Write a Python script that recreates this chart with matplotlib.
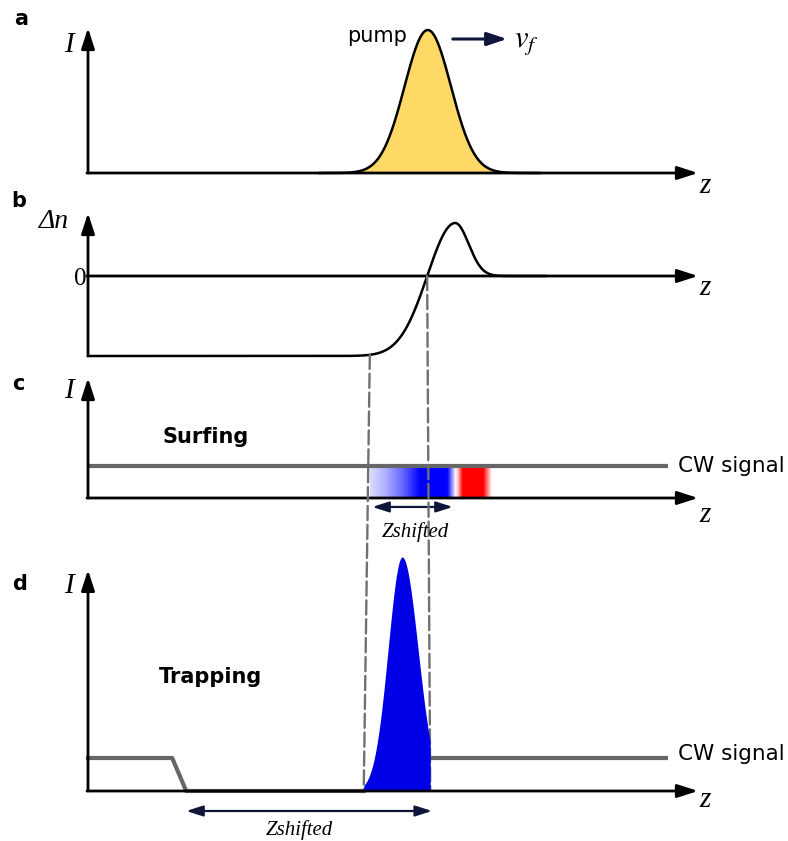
import numpy as np
import matplotlib
matplotlib.use("Agg")
import matplotlib.pyplot as plt
from matplotlib.patches import ConnectionPatch

# ------------------------------------------------------------------ data
# z in arbitrary units: 0 = origin of the axes, 100 = tip of the z arrow
z_end = 100.0

# panel a : pump pulse
pump_center = 55.7
pump_sigma = 3.8
pump_peak = 1.0
pump_range = [38.0, 74.0]
vf_arrow_z = [59.8, 68.7]
vf_arrow_level = 0.937

# panel b : refractive index change
dn_base = -1.6
dn_peak = 1.06
dn_peak_z = 60.2
dn_width_left = 6.44
dn_width_right = 3.1
dn_range = [0.0, 75.0]

# dashed guide lines (z at panel b -> z at panel d)
guide_left_z = [46.2, 45.2]
guide_right_z = [55.6, 56.1]

# panel c : surfing
cw_c_z = [0.0, 95.1]
cw_c_level = [1.0, 1.0]
shift_band_z = [46.2, 66.2]
shift_band_level = [0.0, 1.0]
c_arrow_z = [46.6, 59.8]
c_arrow_level = -0.28

# panel d : trapping
cw_d_left_z = [0.0, 13.8, 16.1, 45.2]
cw_d_left_level = [1.0, 1.0, 0.0, 0.0]
cw_d_right_z = [56.1, 95.1]
cw_d_right_level = [1.0, 1.0]
trap_center = 51.5
trap_peak = 7.09
trap_sigma_left = 2.3
trap_sigma_right = 2.61
trap_range = [45.2, 56.1]
d_arrow_z = [16.1, 56.4]
d_arrow_level = -0.606

# axis extents
a_ytip = 1.014
b_ytip, b_ybase = 1.26, -1.6
c_ytip = 3.75
d_ytip = 6.7

# ------------------------------------------------------------------ figure
W, H, DPI = 788, 841, 100
fig = plt.figure(figsize=(W / DPI, H / DPI), dpi=DPI)
plt.rcParams["mathtext.fontset"] = "stix"

xlim = (-88 / 6.1, (W - 88) / 6.1)


def make_ax(px_top, px_bot, ylim):
    ax = fig.add_axes([0, 1 - px_bot / H, 1, (px_bot - px_top) / H])
    ax.set_xlim(*xlim)
    ax.set_ylim(*ylim)
    ax.axis("off")
    ax.patch.set_alpha(0)
    return ax


ax_a = make_ax(0, 190, ((173 - 190) / 143, 173 / 143))
ax_b = make_ax(190, 370, ((276 - 370) / 50, (276 - 190) / 50))
ax_c = make_ax(370, 545, ((498 - 545) / 32, (498 - 370) / 32))
ax_d = make_ax(545, 841, ((791 - 841) / 33, (791 - 545) / 33))

AX_LW = 2.0
NAVY = "#10163a"
GRAY = "#666666"


def axis_arrow(ax, xy_from, xy_to):
    ax.annotate("", xy=xy_to, xytext=xy_from,
                arrowprops=dict(arrowstyle="-|>,head_length=0.62,head_width=0.2",
                                mutation_scale=20, lw=AX_LW, color="black",
                                shrinkA=0, shrinkB=0), zorder=5)


def draw_axes(ax, ybase, ytip):
    axis_arrow(ax, (0, ybase), (0, ytip))
    axis_arrow(ax, (-0.17, 0), (z_end, 0))


def navy_arrow(ax, z0, z1, y, double=False):
    style = ("<|-|>,head_length=0.5,head_width=0.16" if double
             else "-|>,head_length=0.6,head_width=0.2")
    ax.annotate("", xy=(z1, y), xytext=(z0, y),
                arrowprops=dict(arrowstyle=style, mutation_scale=20,
                                lw=1.6 if double else 2.2, color=NAVY,
                                shrinkA=0, shrinkB=0))


# ---- panel a
z = np.linspace(pump_range[0], pump_range[1], 600)
pump = pump_peak * np.exp(-0.5 * ((z - pump_center) / pump_sigma) ** 2)
ax_a.fill_between(z, 0, pump, color="#ffd966", zorder=2, lw=0)
ax_a.plot(z, pump, color="black", lw=1.8, zorder=3)
draw_axes(ax_a, 0, a_ytip)
navy_arrow(ax_a, vf_arrow_z[0], vf_arrow_z[1], vf_arrow_level)

# ---- panel b
def dn(zz):
    zz = np.asarray(zz, dtype=float)
    left = dn_base + (dn_peak - dn_base) * np.exp(-((zz - dn_peak_z) / dn_width_left) ** 2)
    right = dn_peak * np.exp(-((zz - dn_peak_z) / dn_width_right) ** 2)
    return np.where(zz < dn_peak_z, left, right)


z = np.linspace(dn_range[0], dn_range[1], 1200)
ax_b.plot(z, dn(z), color="black", lw=1.8, zorder=3)
draw_axes(ax_b, b_ybase, b_ytip)

# ---- panel c
band_stops = [0.0, 0.12, 0.27, 0.41, 0.635, 0.70, 0.72, 0.76, 0.93, 1.0]
band_r = [0.86, 0.70, 0.40, 0.0, 0.0, 0.97, 1.0, 1.0, 1.0, 1.0]
band_g = [0.86, 0.70, 0.40, 0.0, 0.0, 0.97, 0.80, 0.0, 0.0, 1.0]
band_b = [1.0, 1.0, 1.0, 1.0, 1.0, 1.0, 0.80, 0.0, 0.0, 1.0]
t = np.linspace(0, 1, 500)
img = np.stack([np.interp(t, band_stops, band_r),
                np.interp(t, band_stops, band_g),
                np.interp(t, band_stops, band_b)], axis=-1)[None, :, :]
ax_c.imshow(img, extent=[shift_band_z[0], shift_band_z[1],
                         shift_band_level[0], shift_band_level[1]],
            aspect="auto", interpolation="bilinear", zorder=2)
ax_c.set_xlim(*xlim)
ax_c.set_ylim((498 - 545) / 32, (498 - 370) / 32)
ax_c.plot(cw_c_z, cw_c_level, color=GRAY, lw=3.0, zorder=3, solid_capstyle="butt")
draw_axes(ax_c, 0, c_ytip)
navy_arrow(ax_c, c_arrow_z[0], c_arrow_z[1], c_arrow_level, double=True)

# ---- panel d
z = np.linspace(trap_range[0], trap_range[1], 600)
sig = np.where(z < trap_center, trap_sigma_left, trap_sigma_right)
trap = trap_peak * np.exp(-0.5 * ((z - trap_center) / sig) ** 2)
ax_d.fill_between(z, 0, trap, color="#0000e6", lw=0, zorder=4)
ax_d.plot(cw_d_left_z, cw_d_left_level, color=GRAY, lw=3.0, zorder=3,
          solid_joinstyle="round")
ax_d.plot(cw_d_right_z, cw_d_right_level, color=GRAY, lw=3.0, zorder=3,
          solid_capstyle="butt")
draw_axes(ax_d, 0, d_ytip)
navy_arrow(ax_d, d_arrow_z[0], d_arrow_z[1], d_arrow_level, double=True)

# ---- dashed guides from panel b to panel d
for zb, zd, yb in [(guide_left_z[0], guide_left_z[1], float(dn(guide_left_z[0]))),
                   (guide_right_z[0], guide_right_z[1], 0.0)]:
    con = ConnectionPatch(xyA=(zb, yb), coordsA="data", axesA=ax_b,
                          xyB=(zd, 0.0), coordsB="data", axesB=ax_d,
                          color="#707070", lw=1.7, linestyle=(0, (6, 2)))
    ax_d.add_artist(con)
    con.set_clip_on(False)
    con.set_zorder(2)

# ------------------------------------------------------------------ text
def ftext(x, y, s, **kw):
    kw.setdefault("va", "baseline")
    fig.text(x / W, 1 - y / H, s, **kw)


SERIF = dict(family="Liberation Serif", style="italic")
SANS = dict(family="DejaVu Sans")

for lab, x, y in [("a", 14, 25), ("b", 11, 207), ("c", 12, 390), ("d", 12, 590)]:
    ftext(x, y, lab, fontsize=15, fontweight="bold", **SANS)

for y in [52, 398, 593]:
    ftext(69, y, "I", fontsize=21, ha="center", **SERIF)
ftext(54, 228, "Δn", fontsize=20, ha="center", **SERIF)
ftext(80, 285, "0", fontsize=18, ha="center", family="Liberation Serif")
for y in [193, 295, 522, 807]:
    ftext(705, y, "z", fontsize=21, ha="center", **SERIF)

ftext(347, 42, "pump", fontsize=15, **SANS)
ftext(514, 47, r"$v_f$", fontsize=22)
ftext(678, 472, "CW signal", fontsize=15.5, **SANS)
ftext(678, 760, "CW signal", fontsize=15.5, **SANS)
ftext(162, 443, "Surfing", fontsize=15, fontweight="bold", **SANS)
ftext(159, 683, "Trapping", fontsize=15, fontweight="bold", **SANS)
ftext(415, 537, "Zshifted", fontsize=15, ha="center", **SERIF)
ftext(299, 835, "Zshifted", fontsize=15, ha="center", **SERIF)

fig.savefig("out.png", dpi=DPI)
